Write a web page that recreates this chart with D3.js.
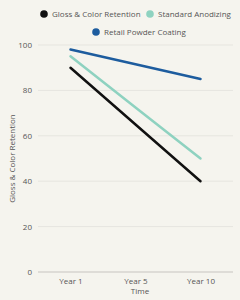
<!DOCTYPE html>
<html><head><meta charset="utf-8">
<script src="https://cdn.jsdelivr.net/npm/d3@7"></script>
<style>body{margin:0;background:#f5f4ee;}svg{display:block;}</style>
</head><body>
<svg id="c" width="240" height="300"></svg>
<script>
const categories = ["Year 1", "Year 5", "Year 10"];
const seriesNames = ["Gloss & Color Retention", "Standard Anodizing", "Retail Powder Coating"];
const glossValues = [90, 65, 40];
const anodizingValues = [95, 72.5, 50];
const powderValues = [98, 91.5, 85];
const yTicks = [0, 20, 40, 60, 80, 100];
const colors = ["#111111", "#8ed2c0", "#1d5c9e"];

const svg = d3.select("#c");
svg.append("rect").attr("width",240).attr("height",300).attr("fill","#f5f4ee");
const font = "'Open Sans', sans-serif";
const m = {l:38, r:7, t:45, b:28};
const x = d3.scalePoint().domain(categories).range([m.l, 240-m.r]).padding(0.5);
const y = d3.scaleLinear().domain([0,100]).range([300-m.b, m.t]);

// grid
svg.append("g").selectAll("line").data(yTicks.filter(d=>d>0)).join("line")
  .attr("x1", m.l).attr("x2", 240-m.r).attr("y1", d=>y(d)).attr("y2", d=>y(d))
  .attr("stroke", "#e6e5df").attr("stroke-width", 1);

// y axis
const ya = svg.append("g").attr("transform", `translate(${m.l},0)`)
  .call(d3.axisLeft(y).tickValues(yTicks).tickSize(0).tickPadding(6));
ya.select(".domain").remove();
ya.selectAll("text").attr("font-family", font).attr("font-size", 8).attr("fill", "#555");

// x axis
const xa = svg.append("g").attr("transform", `translate(0,${y(0)})`)
  .call(d3.axisBottom(x).tickSize(0).tickPadding(6));
xa.select(".domain").attr("stroke", "#d6d5cf").attr("stroke-width", 1.5)
  .attr("d", `M${m.l},0H${240-m.r}`);
xa.selectAll("text").attr("font-family", font).attr("font-size", 8).attr("fill", "#555");

// titles
svg.append("text").attr("x", 140).attr("y", 294).attr("text-anchor","middle")
  .attr("font-family", font).attr("font-size", 8).attr("fill", "#555").text("Time");
svg.append("text").attr("transform", `translate(12,${(y(0)+y(100))/2}) rotate(-90)`)
  .attr("text-anchor","middle").attr("dy","0.35em")
  .attr("font-family", font).attr("font-size", 8).attr("fill", "#555").text("Gloss & Color Retention");

// lines
const data = [glossValues, anodizingValues, powderValues];
const line = d3.line().x((d,i)=>x(categories[i])).y(d=>y(d));
svg.append("g").selectAll("path").data(data).join("path")
  .attr("d", line).attr("fill","none")
  .attr("stroke", (d,i)=>colors[i]).attr("stroke-width", 2.5).attr("stroke-linecap","round");

// legend
const legendPos = [[44,14],[150,14],[96,32]];
const lg = svg.append("g").selectAll("g").data(seriesNames).join("g")
  .attr("transform", (d,i)=>`translate(${legendPos[i][0]},${legendPos[i][1]})`);
lg.append("circle").attr("r", 3.8).attr("fill", (d,i)=>colors[i]);
lg.append("text").attr("x", 8).attr("dy","0.35em")
  .attr("font-family", font).attr("font-size", 8).attr("fill", "#555").text(d=>d);
</script>
</body></html>
